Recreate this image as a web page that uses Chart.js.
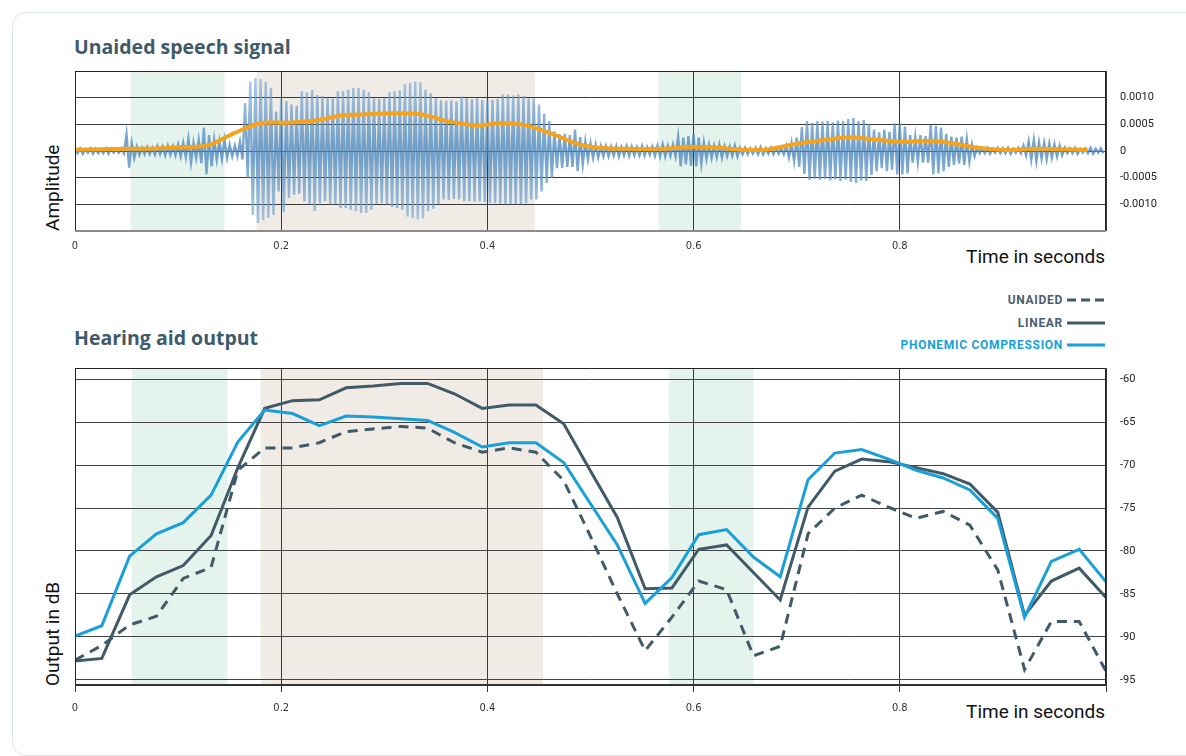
<!DOCTYPE html>
<html>
<head>
<meta charset="utf-8">
<script src="https://cdn.jsdelivr.net/npm/chart.js@4.4.0/dist/chart.umd.min.js"></script>
<style>
  html, body { margin: 0; padding: 0; background: #fff; }
  body { width: 1186px; height: 756px; position: relative; overflow: hidden; font-family: Roboto, sans-serif; }
  .card { position: absolute; left: 12px; top: 12px; width: 1200px; height: 742px; border: 1px solid #dde6ea; border-radius: 14px; }
  .title { position: absolute; left: 74px; font: 700 19.5px "Open Sans", sans-serif; color: #3e5a6a; line-height: 24px; }
  .ytitle { position: absolute; left: 43px; font: 19px Roboto, sans-serif; color: #111; line-height: 20px;
            transform: rotate(-90deg); transform-origin: left top; white-space: nowrap; }
  .xtitle { position: absolute; right: 81px; font: 19px Roboto, sans-serif; color: #111; line-height: 20px; }
  .box { position: absolute; left: 65px; width: 1121px; }
  .legend { position: absolute; left: 700px; top: 289px; width: 405px; }
  .legend div { display: flex; justify-content: flex-end; align-items: center; height: 22.5px;
                font: 700 12px Roboto, sans-serif; letter-spacing: 0.7px; }
  .legend svg { margin-left: 4px; }
</style>
</head>
<body>
<div class="card"></div>

<div class="title" style="top:35px">Unaided speech signal</div>
<div class="title" style="top:326px">Hearing aid output</div>

<div class="ytitle" style="top:231px">Amplitude</div>
<div class="ytitle" style="top:686px">Output in dB</div>
<div class="xtitle" style="top:247px">Time in seconds</div>
<div class="xtitle" style="top:702px">Time in seconds</div>

<div class="legend">
  <div style="color:#4b5e6c">UNAIDED<svg width="38" height="6"><line x1="0" y1="3" x2="38" y2="3" stroke="#415a68" stroke-width="3" stroke-dasharray="9,5"/></svg></div>
  <div style="color:#4b5e6c">LINEAR<svg width="38" height="6"><line x1="0" y1="3" x2="38" y2="3" stroke="#415a68" stroke-width="3"/></svg></div>
  <div style="color:#1a9fd9">PHONEMIC COMPRESSION<svg width="38" height="6"><line x1="0" y1="3" x2="38" y2="3" stroke="#1a9fd9" stroke-width="3"/></svg></div>
</div>

<div class="box" style="top:61px;height:198px"><canvas id="wave"></canvas></div>
<div class="box" style="top:358px;height:367px"><canvas id="aid"></canvas></div>

<script>
// ---- time axis ----
var timeTicks = [0, 0.2, 0.4, 0.6, 0.8, 1.0];
var timeLabels = ['0', '0.2', '0.4', '0.6', '0.8', ''];

// ---- top chart: waveform peaks, one pair every 5 ms (values x 1e-4) ----
var waveStep = 0.005;
var waveHi = [
  0.4,0.5,0.3,0.5,0.4,0.3,0.5,0.4,0.3,0.5,
  3.2,1.5,0.8,0.6,0.7,0.6,0.9,0.8,1.0,0.9,
  1.2,1.5,2.3,1.5,2.1,4.4,3.0,2.1,1.8,2.1,
  1.2,1.0,1.7,9.0,13.0,13.7,13.5,13.0,11.8,7.4,
  9.6,9.3,8.7,8.5,11.2,11.0,11.5,10.5,10.3,9.9,
  9.9,11.2,11.2,11.5,11.8,11.8,11.5,11.0,9.9,9.8,
  9.9,11.0,11.2,11.4,12.5,12.8,13.0,12.9,11.5,10.8,
  9.9,9.5,9.4,9.5,9.3,10.2,9.9,9.7,9.9,9.6,
  9.6,9.6,9.8,10.6,10.6,10.4,10.6,10.3,9.9,9.9,
  8.7,7.0,5.6,3.7,3.1,3.2,3.0,4.0,2.6,1.8,
  1.4,1.2,0.9,0.9,0.8,0.9,0.7,0.9,0.8,0.7,
  0.9,0.7,0.8,1.0,1.2,1.0,1.2,2.8,2.5,2.8,
  3.1,2.5,1.6,1.2,1.0,1.2,0.9,0.8,1.0,0.6,
  0.6,0.5,0.6,0.7,0.5,0.6,0.5,0.6,1.0,1.5,
  2.5,4.5,5.6,5.3,5.6,5.5,5.6,5.4,5.7,5.6,
  6.0,6.2,5.6,5.8,5.0,4.0,3.5,4.0,3.6,5.2,
  5.0,4.6,3.0,2.6,3.0,2.8,4.9,4.7,4.4,3.2,
  2.7,2.5,2.7,2.2,1.2,0.6,0.5,0.6,0.4,0.6,
  0.5,0.6,0.4,0.6,1.0,1.8,2.1,1.6,1.5,1.4,
  1.2,1.0,0.6,0.5,0.6,0.4,0.5,0.6,0.4,0.5
];
var waveLo = [
  -0.4,-0.5,-0.3,-0.5,-0.4,-0.4,-0.5,-0.3,-0.3,-0.4,
  -3.1,-1.3,-0.7,-0.6,-0.6,-0.7,-0.6,-0.8,-0.7,-0.8,
  -1.0,-1.2,-2.2,-1.3,-2.3,-4.4,-2.9,-1.6,-1.5,-1.3,
  -1.0,-0.9,-1.6,-5.0,-12.0,-13.5,-13.0,-12.5,-12.0,-7.6,
  -11.5,-8.8,-8.2,-8.0,-9.4,-10.0,-11.3,-9.8,-9.4,-10.0,
  -10.0,-10.7,-10.7,-11.0,-11.3,-11.6,-11.6,-11.0,-10.0,-9.8,
  -10.0,-10.5,-10.7,-11.0,-12.3,-12.6,-12.8,-12.6,-11.3,-10.8,
  -10.0,-9.1,-9.2,-9.0,-9.1,-9.4,-9.4,-9.5,-9.4,-9.6,
  -9.8,-9.8,-9.9,-10.0,-10.0,-10.0,-10.0,-9.8,-9.1,-9.1,
  -7.6,-6.0,-5.0,-3.2,-3.2,-3.0,-3.0,-3.8,-2.5,-1.6,
  -1.3,-1.2,-1.0,-1.0,-0.9,-1.0,-0.8,-0.9,-0.8,-0.8,
  -0.8,-0.7,-0.9,-1.0,-1.0,-0.9,-1.0,-2.9,-2.5,-2.8,
  -2.9,-2.4,-1.5,-1.3,-1.2,-1.3,-1.0,-0.9,-1.0,-0.6,
  -0.6,-0.5,-0.6,-0.6,-0.5,-0.6,-0.5,-0.6,-1.2,-1.9,
  -3.0,-4.3,-5.4,-5.2,-5.4,-5.2,-5.5,-5.3,-5.6,-5.4,
  -5.8,-6.0,-5.5,-5.6,-4.5,-3.8,-3.2,-3.8,-3.5,-4.4,
  -4.4,-4.2,-2.2,-2.0,-2.2,-2.2,-4.4,-4.2,-3.8,-3.0,
  -2.6,-2.3,-2.6,-2.0,-1.0,-0.4,-0.4,-0.5,-0.3,-0.4,
  -0.4,-0.5,-0.3,-0.4,-0.8,-1.6,-1.9,-1.4,-1.5,-1.2,
  -1.0,-0.8,-0.4,-0.4,-0.5,-0.3,-0.4,-0.5,-0.3,-0.4
];

// smoothed envelope (orange), x 1e-4
var envT = [0, 0.05, 0.078, 0.104, 0.128, 0.155, 0.18, 0.205, 0.233, 0.26, 0.285, 0.309, 0.335, 0.361, 0.39,
            0.413, 0.438, 0.464, 0.49, 0.515, 0.54, 0.568, 0.6, 0.62, 0.646, 0.672, 0.704, 0.736, 0.752,
            0.778, 0.801, 0.827, 0.849, 0.878, 0.901, 0.933, 0.982];
var envA = [0.25, 0.4, 0.45, 0.75, 1.0, 3.4, 5.25, 5.3, 5.7, 6.7, 6.9, 7.1, 6.9, 5.6, 4.8,
            5.25, 4.8, 3.1, 1.2, 0.5, 0.4, 0.4, 0.75, 0.7, 0.25, 0.3, 1.5, 2.3, 2.6,
            2.1, 1.7, 1.9, 1.5, 0.55, 0.2, 0.4, 0.2];

var ampTicks = [-0.0015, -0.0010, -0.0005, 0, 0.0005, 0.0010, 0.0015];
var ampLabels = ['', '-0.0010', '-0.0005', '0', '0.0005', '0.0010', ''];

// shaded phoneme regions (seconds)
var topBandFrom = [0.054, 0.176, 0.566];
var topBandTo   = [0.145, 0.446, 0.646];
var botBandFrom = [0.055, 0.180, 0.576];
var botBandTo   = [0.148, 0.454, 0.658];
var bandKind    = ['green', 'beige', 'green'];

// ---- bottom chart: output level per frame (dB) ----
var frameT = [0, 0.026, 0.053, 0.079, 0.105, 0.132, 0.158, 0.184, 0.211, 0.237, 0.263, 0.289, 0.316,
              0.342, 0.368, 0.395, 0.421, 0.447, 0.474, 0.5, 0.526, 0.553, 0.579, 0.605, 0.632, 0.658,
              0.684, 0.711, 0.737, 0.763, 0.789, 0.816, 0.842, 0.868, 0.895, 0.921, 0.947, 0.974, 1.0];
var unaided = [-92.7, -91.0, -88.6, -87.6, -83.2, -81.9, -70.6, -68.0, -68.0, -67.4, -66.1, -65.8, -65.5,
               -65.7, -67.4, -68.5, -68.0, -68.5, -71.8, -78.3, -85.0, -91.6, -87.7, -83.5, -84.5, -92.2,
               -91.1, -78.0, -75.0, -73.5, -74.9, -76.2, -75.4, -77.0, -82.2, -93.8, -88.2, -88.2, -94.0];
var linear = [-92.8, -92.5, -85.1, -83.0, -81.7, -78.2, -70.3, -63.4, -62.5, -62.4, -61.0, -60.8, -60.5,
              -60.5, -61.7, -63.4, -63.0, -63.0, -65.2, -70.7, -76.1, -84.4, -84.3, -79.8, -79.3, -82.5,
              -85.7, -74.9, -70.7, -69.3, -69.6, -70.3, -71.0, -72.2, -75.5, -87.5, -83.5, -82.0, -85.4];
var phonemic = [-89.9, -88.7, -80.6, -78.0, -76.7, -73.5, -67.3, -63.6, -64.0, -65.4, -64.3, -64.4, -64.6,
                -64.8, -66.2, -67.9, -67.4, -67.4, -69.7, -74.5, -79.3, -86.1, -83.1, -78.1, -77.5, -80.7,
                -83.0, -71.7, -68.6, -68.2, -69.3, -70.6, -71.5, -72.9, -76.2, -87.7, -81.2, -79.8, -83.6];
var dbTicks = [-95, -90, -85, -80, -75, -70, -65, -60];
var dbLabels = ['-95', '-90', '-85', '-80', '-75', '-70', '-65', '-60'];

var bandColors = { green: '#e4f3ec', beige: '#f1ebe6' };

var framePlugin = {
  id: 'frame',
  beforeDraw: function(chart, args, opts) {
    var ctx = chart.ctx, a = chart.chartArea, x = chart.scales.x;
    ctx.save();
    for (var i = 0; i < opts.from.length; i++) {
      var x0 = x.getPixelForValue(opts.from[i]);
      var x1 = x.getPixelForValue(opts.to[i]);
      ctx.fillStyle = bandColors[bandKind[i]];
      ctx.fillRect(x0, a.top, x1 - x0, a.bottom - a.top);
    }
    ctx.restore();
  },
  afterDraw: function(chart, args, opts) {
    var ctx = chart.ctx, a = chart.chartArea;
    ctx.save();
    ctx.strokeStyle = '#222';
    ctx.lineWidth = 1;
    ctx.beginPath();
    ctx.moveTo(a.left + 0.5, a.bottom);
    ctx.lineTo(a.left + 0.5, a.top + 0.5);
    ctx.lineTo(a.right - 0.5, a.top + 0.5);
    ctx.lineTo(a.right - 0.5, a.bottom);
    ctx.stroke();
    ctx.strokeStyle = opts.bottomColor;
    ctx.lineWidth = 2;
    ctx.beginPath();
    ctx.moveTo(a.left, a.bottom);
    ctx.lineTo(a.right, a.bottom);
    ctx.stroke();
    ctx.restore();
  }
};

function timeAxis(h, tickLen, pad) {
  return {
    type: 'linear', min: 0, max: 1, offset: false,
    afterBuildTicks: function(s) { s.ticks = timeTicks.map(function(v) { return { value: v }; }); },
    afterFit: function(s) { s.height = h; s.paddingLeft = 0; s.paddingRight = 0; },
    grid: { color: '#3a3a3a', lineWidth: 1, offset: false, drawTicks: tickLen > 0, tickLength: tickLen, tickColor: '#3a3a3a' },
    border: { display: false },
    ticks: {
      padding: pad, color: '#333', maxRotation: 0, autoSkip: false,
      font: { family: '"Liberation Sans Narrow", "DejaVu Sans Condensed", sans-serif', size: 11 },
      callback: function(v, i) { return timeLabels[i]; }
    }
  };
}

function rightAxis(min, max, ticks, labels, gridColor) {
  return {
    position: 'right', min: min, max: max,
    afterBuildTicks: function(s) { s.ticks = ticks.map(function(v) { return { value: v }; }); },
    afterFit: function(s) { s.width = 80; s.paddingTop = 0; s.paddingBottom = 0; },
    grid: { color: gridColor, lineWidth: 1, drawTicks: false },
    border: { display: false },
    ticks: { padding: 14, color: '#222', font: { family: 'Roboto', size: 11 },
             callback: function(v, i) { return labels[i]; } }
  };
}

// peaks laid out as an up/down trace: high peak at the bin start, low peak half a bin later
var waveData = [];
waveHi.forEach(function(h, i) {
  waveData.push({ x: i * waveStep, y: h * 1e-4 });
  waveData.push({ x: (i + 0.5) * waveStep, y: waveLo[i] * 1e-4 });
});
var envData = envT.map(function(t, i) { return { x: t, y: envA[i] * 1e-4 }; });

function waveColor(c) {
  var a = c.chart.chartArea;
  if (!a) return '#7fb0d8';
  var g = c.chart.ctx.createLinearGradient(0, a.top, 0, a.bottom);
  g.addColorStop(0, 'rgba(120,172,215,0.6)');
  g.addColorStop(0.5, 'rgba(80,138,190,0.82)');
  g.addColorStop(1, 'rgba(120,172,215,0.6)');
  return g;
}

new Chart(document.getElementById('wave'), {
  type: 'line',
  data: {
    datasets: [
      { data: envData, borderColor: '#f7a21b', borderWidth: 4, pointRadius: 0, tension: 0.3, order: 0 },
      { data: waveData, borderColor: waveColor, borderWidth: 2.4, pointRadius: 0, tension: 0, order: 1 }
    ]
  },
  options: {
    responsive: true, maintainAspectRatio: false, animation: false,
    layout: { padding: { left: 10, top: 10, right: 0, bottom: 0 } },
    plugins: { legend: { display: false }, tooltip: { enabled: false },
               frame: { from: topBandFrom, to: topBandTo, bottomColor: '#8c8c8c' } },
    scales: {
      x: timeAxis(28, 0, 9),
      y: rightAxis(-0.0015, 0.0015, ampTicks, ampLabels, '#3a3a3a')
    }
  },
  plugins: [framePlugin]
});

function series(arr) { return frameT.map(function(t, i) { return { x: t, y: arr[i] }; }); }

new Chart(document.getElementById('aid'), {
  type: 'line',
  data: {
    datasets: [
      { label: 'PHONEMIC COMPRESSION', data: series(phonemic), borderColor: '#1a9fd9', borderWidth: 3,
        pointRadius: 0, tension: 0, order: 0 },
      { label: 'LINEAR', data: series(linear), borderColor: '#415a68', borderWidth: 3,
        pointRadius: 0, tension: 0, order: 1 },
      { label: 'UNAIDED', data: series(unaided), borderColor: '#415a68', borderWidth: 3,
        borderDash: [10, 7], pointRadius: 0, tension: 0, order: 2 }
    ]
  },
  options: {
    responsive: true, maintainAspectRatio: false, animation: false,
    layout: { padding: { left: 10, top: 10, right: 0, bottom: 0 } },
    plugins: { legend: { display: false }, tooltip: { enabled: false },
               frame: { from: botBandFrom, to: botBandTo, bottomColor: '#333' } },
    scales: {
      x: timeAxis(40, 7, 10),
      y: rightAxis(-95.6, -58.7, dbTicks, dbLabels, '#444')
    }
  },
  plugins: [framePlugin]
});
</script>
</body>
</html>
